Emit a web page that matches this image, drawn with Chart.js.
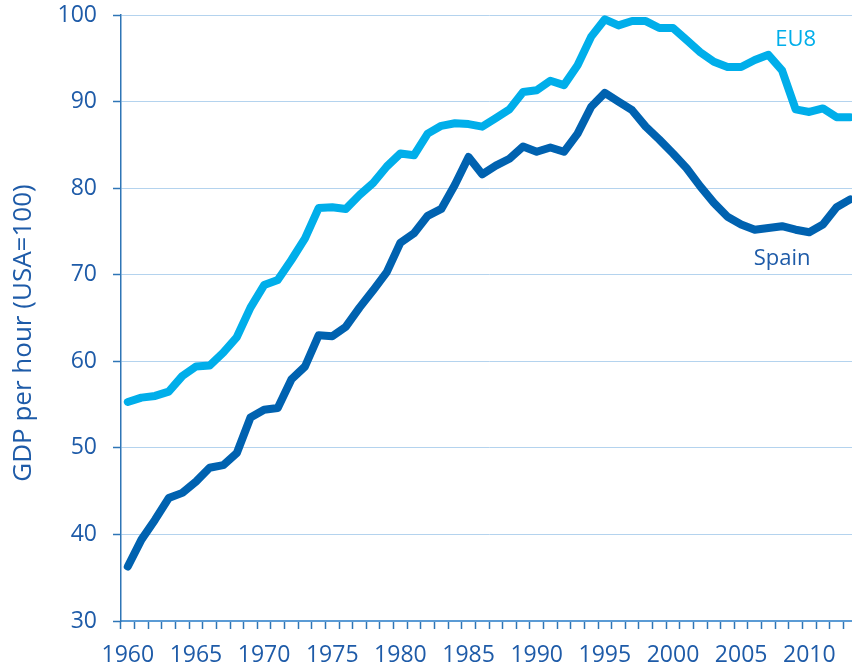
<!DOCTYPE html>
<html>
<head>
<meta charset="utf-8">
<script src="https://cdn.jsdelivr.net/npm/chart.js@4/dist/chart.umd.min.js"></script>
<style>
  html, body { margin: 0; padding: 0; background: #fff; overflow: hidden; }
  #wrap { position: absolute; left: 0; top: 0; width: 860px; height: 668px; }
</style>
</head>
<body>
<div id="wrap"><canvas id="chart"></canvas></div>
<script>
// --- Data ---
const years = [];
for (let y = 1960; y <= 2013; y++) years.push(y);

const spain = [
  36.3, 39.4, 41.7, 44.2, 44.8, 46.1, 47.7, 48.0, 49.4, 53.5,
  54.4, 54.6, 57.9, 59.4, 63.0, 62.9, 64.0, 66.2, 68.2, 70.3,
  73.7, 74.8, 76.8, 77.6, 80.4, 83.6, 81.6, 82.6, 83.4, 84.8,
  84.2, 84.7, 84.2, 86.3, 89.4, 91.0, 90.0, 89.0, 87.1, 85.6,
  84.0, 82.3, 80.2, 78.3, 76.7, 75.8, 75.2, 75.4, 75.6, 75.2,
  74.9, 75.8, 77.8, 78.7
];

const eu8 = [
  55.3, 55.8, 56.0, 56.5, 58.3, 59.4, 59.5, 61.0, 62.8, 66.2,
  68.8, 69.4, 71.7, 74.2, 77.7, 77.8, 77.6, 79.2, 80.6, 82.5,
  84.0, 83.8, 86.3, 87.2, 87.5, 87.4, 87.1, 88.1, 89.1, 91.1,
  91.3, 92.4, 91.9, 94.2, 97.5, 99.5, 98.8, 99.3, 99.3, 98.5,
  98.5, 97.1, 95.7, 94.6, 94.0, 94.0, 94.8, 95.4, 93.6, 89.1,
  88.8, 89.2, 88.2, 88.2
];

const yTicks = [30, 40, 50, 60, 70, 80, 90, 100];
const yTitle = "GDP per hour (USA=100)";

// series labels placed next to the lines (year, value)
const seriesLabels = [
  { text: "EU8", year: 2009, value: 97.1, color: "#00AEEA" },
  { text: "Spain", year: 2008, value: 71.8, color: "#1E5BA8" }
];

const textColor = "#1E5BA8";
const font = "'Open Sans', 'Noto Sans', sans-serif";

// --- Line labels + axis title plugin ---
const lineLabels = {
  id: "lineLabels",
  afterDatasetsDraw(chart) {
    const { ctx, scales, chartArea } = chart;
    ctx.save();
    ctx.font = "22px " + font;
    ctx.textAlign = "center";
    ctx.textBaseline = "middle";
    seriesLabels.forEach(l => {
      ctx.fillStyle = l.color;
      const x = scales.x.getPixelForValue(years.indexOf(l.year));
      const y = scales.y.getPixelForValue(l.value);
      ctx.fillText(l.text, x, y);
    });

    // y axis title, sits a bit below the middle of the plot like the original
    ctx.translate(24, (chartArea.top + chartArea.bottom) / 2 + 15);
    ctx.rotate(-Math.PI / 2);
    ctx.font = "26px " + font;
    ctx.fillStyle = textColor;
    ctx.fillText(yTitle, 0, 0);
    ctx.restore();
  }
};

new Chart(document.getElementById("chart"), {
  type: "line",
  data: {
    labels: years,
    datasets: [
      { label: "EU8", data: eu8, borderColor: "#00AEEA", borderWidth: 8,
        pointRadius: 0, tension: 0, borderCapStyle: "round", borderJoinStyle: "round" },
      { label: "Spain", data: spain, borderColor: "#0062B0", borderWidth: 8,
        pointRadius: 0, tension: 0, borderCapStyle: "round", borderJoinStyle: "round" }
    ]
  },
  options: {
    responsive: true,
    maintainAspectRatio: false,
    animation: false,
    events: [],
    layout: { padding: { top: 15, right: 3, left: 0, bottom: 0 } },
    plugins: { legend: { display: false }, tooltip: { enabled: false } },
    scales: {
      x: {
        type: "category",
        offset: true,
        afterFit: s => { s.height = 47; s.paddingLeft = 0; s.paddingRight = 0; },
        grid: {
          offset: true,
          drawOnChartArea: false,
          drawTicks: true,
          tickLength: 8,
          tickColor: "#2E75B6",
          tickWidth: 1.5
        },
        border: { color: "#5B9BD5", width: 2 },
        ticks: {
          autoSkip: false,
          maxRotation: 0,
          padding: 13,
          color: textColor,
          font: { family: font, size: 23 },
          callback: (v, i) => (years[i] % 5 === 0 ? String(years[i]) : "")
        }
      },
      y: {
        min: 30,
        max: 100,
        afterFit: s => { s.width = 121; s.paddingTop = 0; s.paddingBottom = 0; },
        afterBuildTicks: s => { s.ticks = yTicks.map(v => ({ value: v })); },
        grid: {
          color: "#B4D3EE",
          lineWidth: 1,
          borderDash: [1, 1],
          tickLength: 8,
          tickColor: "#2E75B6",
          tickWidth: 1.5,
          tickBorderDash: []
        },
        border: { color: "#2E75B6", width: 1.5 },
        ticks: {
          padding: 16,
          color: textColor,
          font: { family: font, size: 23 }
        }
      }
    }
  },
  plugins: [lineLabels]
});
</script>
</body>
</html>
